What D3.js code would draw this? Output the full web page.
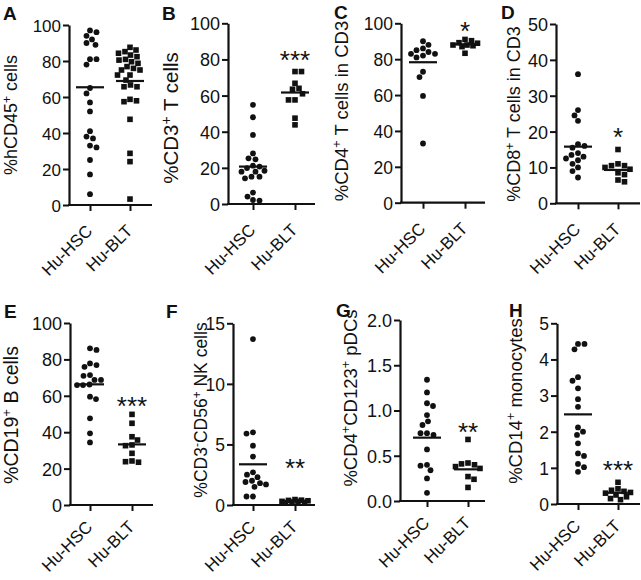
<!DOCTYPE html>
<html><head><meta charset="utf-8">
<script src="https://cdn.jsdelivr.net/npm/d3@7"></script>
<style>body{margin:0;background:#fff}svg{display:block}text{font-family:"Liberation Sans",Arial,Helvetica,sans-serif;fill:#111}</style>
</head><body><svg id="c" width="641" height="580"></svg>
<script>
const categories = ["Hu-HSC", "Hu-BLT"];
const panelLetters = ["A", "B", "C", "D", "E", "F", "G", "H"];
const yTitles = [
  [["%hCD45", ""], ["+", "sup"], [" cells", ""]],
  [["%CD3", ""], ["+", "sup"], [" T cells", ""]],
  [["%CD4", ""], ["+", "sup"], [" T cells in CD3", ""]],
  [["%CD8", ""], ["+", "sup"], [" T cells in CD3", ""]],
  [["%CD19", ""], ["+", "sup"], [" B cells", ""]],
  [["%CD3", ""], ["-", "sup"], ["CD56", ""], ["+", "sup"], [" NK cells", ""]],
  [["%CD4", ""], ["+", "sup"], ["CD123", ""], ["+", "sup"], [" pDCs", ""]],
  [["%CD14", ""], ["+", "sup"], [" monocytes", ""]]
];
const yMaxima = [100, 100, 100, 50, 100, 15, 2, 5];
const yTickValues = [
  [0, 20, 40, 60, 80, 100], [0, 20, 40, 60, 80, 100], [0, 20, 40, 60, 80, 100],
  [0, 10, 20, 30, 40, 50], [0, 20, 40, 60, 80, 100], [0, 5, 10, 15],
  [0, 0.5, 1, 1.5, 2], [0, 1, 2, 3, 4, 5]
];
const yTickFormats = ["d", "d", "d", "d", "d", "d", ".1f", "d"];

const hscA = [97, 96, 94, 92, 90, 89, 81, 81, 78, 65, 62, 57, 52, 41, 38, 37, 33, 32, 25, 17, 6];
const bltA = [87.6, 86.1, 85.2, 84.3, 83.3, 82.4, 80.9, 80.5, 79.6, 78.7, 76.9, 75.9, 75, 75, 72.2, 72.2, 69.4, 66.7, 65.7, 65.7, 58.7, 57.9, 57.4, 47.6, 28.7, 24.1, 3.3];
const hscB = [54.9, 48, 38.2, 28, 25.3, 24.7, 21.2, 20.7, 19.9, 18.4, 17.9, 17.9, 15.1, 15.1, 14.2, 6.3, 4.1, 2.2, 1.9];
const bltB = [73.3, 73.3, 66.8, 64, 63.5, 61, 57.6, 57.6, 47.5, 43.8];
const hscC = [90, 88, 86, 85, 84, 83, 83, 82, 81, 73, 70, 59.5, 33];
const bltC = [91, 90.3, 89.2, 88.9, 87.9, 87.9, 87.5, 87, 83.3];
const hscD = [36, 26, 24.5, 23, 16.5, 16, 15.5, 14, 13.5, 13, 12.5, 12, 11, 10, 9, 7.2];
const bltD = [15, 11, 10.5, 10.5, 10, 9.5, 8.5, 8, 6.5, 6];
const hscE = [86.1, 85.2, 77.8, 76.9, 75.9, 71.4, 71.0, 68.7, 68.7, 66.2, 65.9, 65.9, 59.5, 58.2, 47.6, 39.4, 34.4];
const bltE = [49.8, 44.9, 37.5, 35.7, 33.0, 32.6, 28.4, 24.2, 23.8, 23.5];
const hscF = [13.7, 6.0, 5.9, 4.9, 4.0, 2.7, 2.5, 2.3, 2.0, 1.9, 1.8, 1.7, 1.5, 0.7, 0.7];
const bltF = [0.45, 0.4, 0.38, 0.35, 0.3, 0.3, 0.25, 0.22, 0.2];
const hscG = [1.34, 1.2, 1.08, 1.05, 0.95, 0.88, 0.84, 0.75, 0.75, 0.73, 0.57, 0.4, 0.39, 0.34, 0.25, 0.09];
const bltG = [0.68, 0.42, 0.41, 0.40, 0.38, 0.36, 0.27, 0.24, 0.15];
const hscH = [4.43, 4.43, 4.28, 3.51, 3.41, 3.2, 2.9, 2.69, 2.12, 2.0, 1.91, 1.68, 1.4, 1.33, 1.11, 1.02, 0.89];
const bltH = [0.6, 0.42, 0.38, 0.35, 0.32, 0.3, 0.25, 0.2, 0.15, 0.12];

const hscMeans = [65.4, 20.7, 78.3, 15.8, 66.3, 3.36, 0.70, 2.48];
const bltMeans = [68.9, 61.7, 88.3, 9.3, 33.3, 0.3, 0.35, 0.31];
const sigLabels = ["", "***", "*", "*", "***", "**", "**", "***"];
const sigValues = [0, 83, 99, 20.2, 57.7, 3.55, 0.83, 1.1];

const hscValues = [hscA, hscB, hscC, hscD, hscE, hscF, hscG, hscH];
const bltValues = [bltA, bltB, bltC, bltD, bltE, bltF, bltG, bltH];

// panel geometry
const layout = [
  {ax: 69, top: 25, bot: 205, c1: 90, c2: 130, end: 152, lx: 3, ly: 20, tx: 17, ty: 115, tfs: 18, kfs: 17, lo: 27},
  {ax: 228, top: 23.3, bot: 204, c1: 253, c2: 295, end: 315, lx: 162, ly: 20, tx: 178, ty: 118, tfs: 20.5, kfs: 18, lo: 27},
  {ax: 401, top: 23.3, bot: 202.7, c1: 423, c2: 465, end: 485, lx: 334, ly: 19, tx: 348, ty: 111, tfs: 18.5, kfs: 17.5, lo: 27},
  {ax: 556, top: 24, bot: 203.3, c1: 578, c2: 618, end: 640, lx: 501, ly: 19, tx: 520, ty: 114, tfs: 18, kfs: 18, lo: 27},
  {ax: 70, top: 323, bot: 505, c1: 90, c2: 132, end: 153, lx: 4, ly: 318, tx: 18, ty: 415, tfs: 19.5, kfs: 18, lo: 23},
  {ax: 233, top: 323.3, bot: 505, c1: 253, c2: 295, end: 315, lx: 166, ly: 318, tx: 207, ty: 410, tfs: 17.5, kfs: 17.5, lo: 23},
  {ax: 400, top: 320, bot: 501, c1: 427, c2: 468, end: 485, lx: 336, ly: 317, tx: 357, ty: 398, tfs: 18.5, kfs: 18, lo: 23},
  {ax: 557, top: 323.3, bot: 504, c1: 578, c2: 618, end: 640, lx: 509, ly: 317, tx: 522, ty: 401, tfs: 18.5, kfs: 17.5, lo: 23}
];

const svg = d3.select("#c");

function swarm(vals, y, cx, diam, maxOff) {
  const pts = vals.map(v => ({v, py: y(v)})).sort((a, b) => a.py - b.py);
  const placed = [];
  pts.forEach((p, i) => {
    let best = null, fallback = 0, fallbackD = -1;
    for (let k = 0; 0.5 * k <= maxOff && best === null; k++) {
      const s = k * 0.5;
      const offs = k === 0 ? [0] : (i % 2 ? [s, -s] : [-s, s]);
      for (const o of offs) {
        const md = placed.length ? d3.min(placed, q => Math.hypot(q.dx - o, q.py - p.py)) : Infinity;
        if (md >= diam) { best = o; break; }
        if (md > fallbackD) { fallbackD = md; fallback = o; }
      }
    }
    p.dx = best === null ? fallback : best;
    placed.push(p);
  });
  return placed.map(p => ({v: p.v, py: p.py, px: cx + p.dx}));
}

layout.forEach((L, i) => {
  const g = svg.append("g");
  const y = d3.scaleLinear().domain([0, yMaxima[i]]).range([L.bot, L.top]);
  const x = d3.scalePoint().domain(categories).range([L.c1, L.c2]);

  // y axis
  const ya = g.append("g").attr("transform", `translate(${L.ax},0)`)
    .call(d3.axisLeft(y).tickValues(yTickValues[i]).tickFormat(d3.format(yTickFormats[i])).tickSize(6).tickPadding(2).tickSizeOuter(0));
  ya.select(".domain").attr("stroke-width", 2.2).attr("stroke", "#111");
  ya.selectAll(".tick line").attr("stroke-width", 2).attr("stroke", "#111");
  ya.selectAll(".tick text").attr("font-size", L.kfs).attr("font-family", null).attr("fill", "#111").attr("dy", "0.36em");

  // x axis
  const xa = g.append("g").attr("transform", `translate(0,${L.bot})`)
    .call(d3.axisBottom(x).tickSize(6).tickSizeOuter(0));
  xa.select(".domain").remove();
  g.append("line").attr("x1", L.ax - 1).attr("x2", L.end).attr("y1", L.bot).attr("y2", L.bot)
    .attr("stroke", "#111").attr("stroke-width", 2.2);
  xa.selectAll(".tick line").attr("stroke-width", 2).attr("stroke", "#111");
  const ex = 3, ey = L.lo, c = Math.SQRT1_2;
  xa.selectAll(".tick text").attr("font-size", 17).attr("font-family", null).attr("fill", "#111")
    .attr("text-anchor", "end").attr("dy", 0)
    .attr("x", (ex - ey) * c).attr("y", (ex + ey) * c)
    .attr("transform", "rotate(-45)");

  // y title
  const t = g.append("text").attr("font-size", L.tfs).attr("text-anchor", "middle")
    .attr("transform", `translate(${L.tx},${L.ty}) rotate(-90)`);
  let shift = 0;
  yTitles[i].forEach(([s, kind]) => {
    const sp = t.append("tspan").text(s);
    if (kind === "sup") {
      const up = L.tfs * 0.36;
      sp.attr("font-size", L.tfs * 0.68).attr("dy", -up - shift); shift = -up;
    } else {
      sp.attr("dy", -shift); shift = 0;
    }
  });

  // panel letter
  g.append("text").attr("x", L.lx).attr("y", L.ly).attr("font-size", 19).attr("font-weight", "bold").text(panelLetters[i]);

  // points
  const hs = swarm(hscValues[i], y, x("Hu-HSC"), 6.4, 13);
  g.selectAll("circle").data(hs).join("circle")
    .attr("cx", d => d.px).attr("cy", d => d.py).attr("r", 2.9).attr("fill", "#111");
  const bs = swarm(bltValues[i], y, x("Hu-BLT"), 6.4, 13);
  const sq = 5.6;
  g.selectAll("rect.pt").data(bs).join("rect").attr("class", "pt")
    .attr("x", d => d.px - sq / 2).attr("y", d => d.py - sq / 2).attr("width", sq).attr("height", sq).attr("fill", "#111");

  // mean lines
  [[hscMeans[i], "Hu-HSC"], [bltMeans[i], "Hu-BLT"]].forEach(([m, cat]) => {
    g.append("line").attr("x1", x(cat) - 14).attr("x2", x(cat) + 14).attr("y1", y(m)).attr("y2", y(m))
      .attr("stroke", "#111").attr("stroke-width", 2.2);
  });

  // significance
  if (sigLabels[i]) {
    g.append("text").attr("x", x("Hu-BLT")).attr("y", y(sigValues[i]) + 26 * 0.58)
      .attr("font-size", 26).attr("text-anchor", "middle").text(sigLabels[i]);
  }
});
</script></body></html>
